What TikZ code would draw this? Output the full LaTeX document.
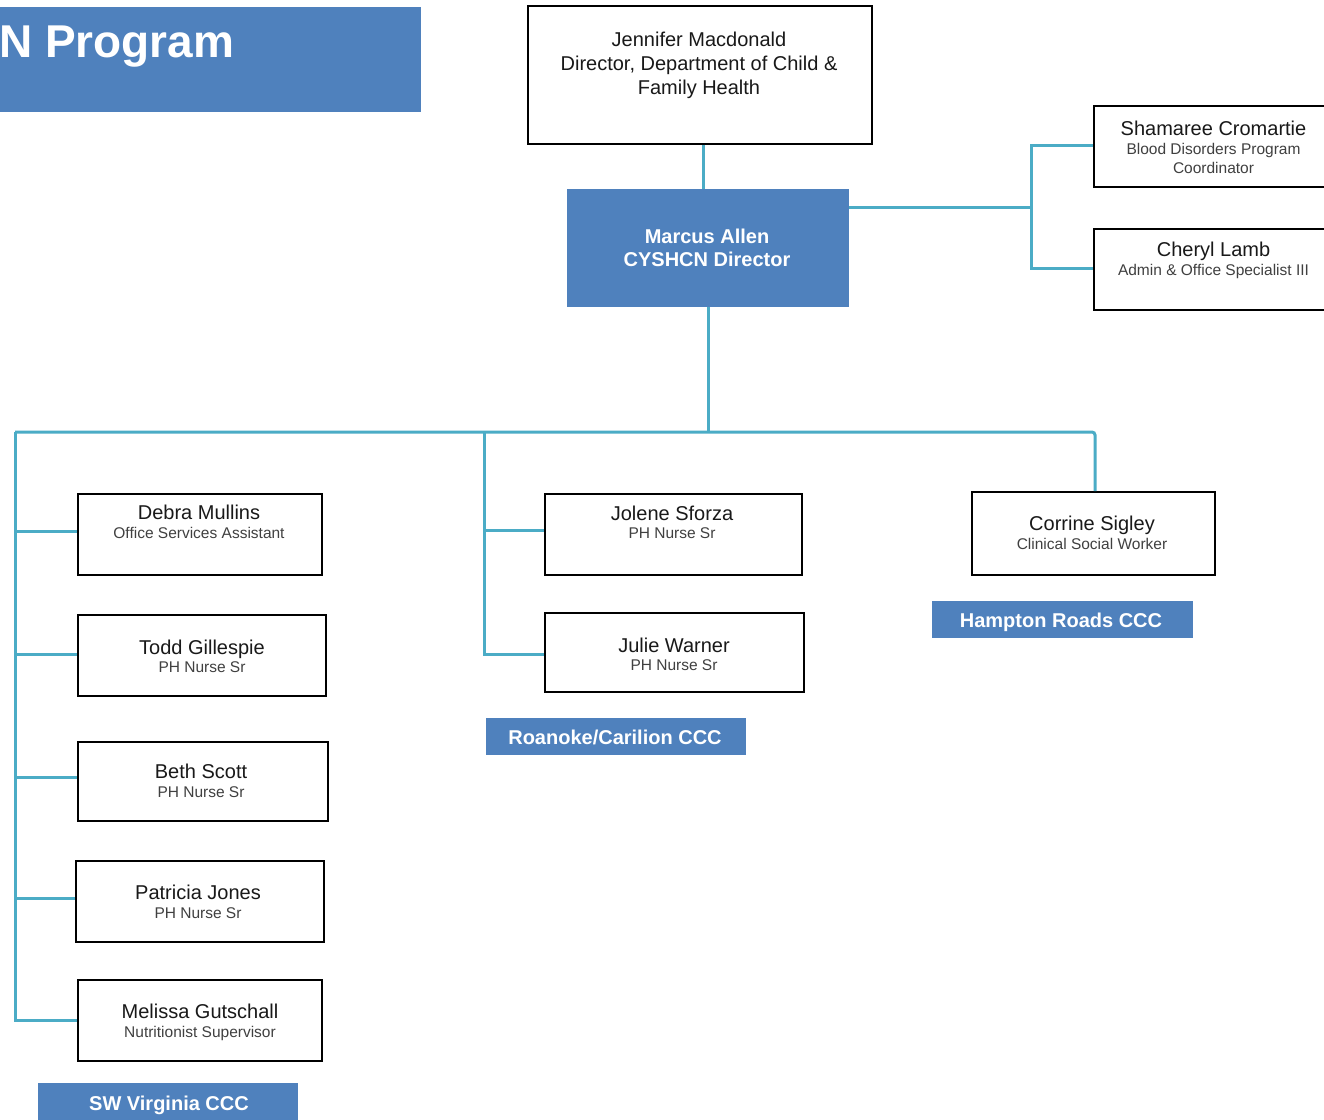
\documentclass[tikz,border=0pt]{standalone}
\usepackage{fontspec}
\setmainfont{Liberation Sans}
\definecolor{hdrblue}{RGB}{79,129,189}
\definecolor{linkteal}{RGB}{75,172,198}
\begin{document}
\begin{tikzpicture}[x=1pt,y=-1pt,
 conn/.style={draw=linkteal,line width=3pt},
 pbox/.style={draw=black,line width=1.6pt,fill=white,inner sep=0pt,rectangle},
 bluebox/.style={fill=hdrblue,inner sep=0pt,rectangle},
 nm/.style={font=\fontsize{20}{24}\selectfont,text height=14.3pt,text depth=0pt,inner sep=0pt,text=black!90},
 tt/.style={font=\fontsize{15.5}{18}\selectfont,text height=11.1pt,text depth=0pt,inner sep=0pt,text=black!75},
 wb/.style={font=\bfseries\fontsize{20}{24}\selectfont,text height=14.3pt,text depth=0pt,inner sep=0pt,text=white}]
\useasboundingbox (0,0) rectangle (1324,1119);
\fill[white] (0,0) rectangle (1324,1119);

% title
\node[bluebox,minimum width=431pt,minimum height=105pt] (title) at (205.5,59.5) {};
\node[anchor=base west,inner sep=0pt,text=white,font=\bfseries\fontsize{46}{50}\selectfont] (titletext) at (-1,57) {N Program};

% boxes
\node[pbox,minimum width=344pt,minimum height=138pt] (jen) at (700,75) {};
\node[nm] (jenA) at (699,39) {Jennifer Macdonald};
\node[nm] (jenB) at (699,63) {Director, Department of Child \&};
\node[nm] (jenC) at (699,87) {Family Health};

\node[bluebox,minimum width=282pt,minimum height=118pt] (marcus) at (708,248) {};
\node[wb] (marcusA) at (707,236) {Marcus Allen};
\node[wb] (marcusB) at (707,259) {CYSHCN Director};

\node[pbox,minimum width=239pt,minimum height=81pt] (sham) at (1213.5,146.5) {};
\node[nm] (shamA) at (1213.5,128) {Shamaree Cromartie};
\node[tt] (shamB) at (1213.5,149) {Blood Disorders Program};
\node[tt] (shamC) at (1213.5,168) {Coordinator};

\node[pbox,minimum width=239pt,minimum height=81pt] (cheryl) at (1213.5,269.5) {};
\node[nm] (cherylA) at (1213.5,249) {Cheryl Lamb};
\node[tt] (cherylB) at (1213.5,270) {Admin \& Office Specialist III};

\node[pbox,minimum width=244pt,minimum height=81pt] (debra) at (200,534.5) {};
\node[nm] (debraA) at (199,512) {Debra Mullins};
\node[tt] (debraB) at (199,533) {Office Services Assistant};

\node[pbox,minimum width=248pt,minimum height=81pt] (todd) at (202,655.5) {};
\node[nm] (toddA) at (202,647) {Todd Gillespie};
\node[tt] (toddB) at (202,667) {PH Nurse Sr};

\node[pbox,minimum width=250pt,minimum height=79pt] (beth) at (203,781.5) {};
\node[nm] (bethA) at (201,771) {Beth Scott};
\node[tt] (bethB) at (201,792) {PH Nurse Sr};

\node[pbox,minimum width=248pt,minimum height=81pt] (patricia) at (200,901.5) {};
\node[nm] (patriciaA) at (198,892) {Patricia Jones};
\node[tt] (patriciaB) at (198,913) {PH Nurse Sr};

\node[pbox,minimum width=244pt,minimum height=81pt] (melissa) at (200,1020.5) {};
\node[nm] (melissaA) at (200,1011) {Melissa Gutschall};
\node[tt] (melissaB) at (200,1032) {Nutritionist Supervisor};

\node[pbox,minimum width=257pt,minimum height=81pt] (jolene) at (673.5,534.5) {};
\node[nm] (joleneA) at (672,513) {Jolene Sforza};
\node[tt] (joleneB) at (672,533) {PH Nurse Sr};

\node[pbox,minimum width=259pt,minimum height=79pt] (julie) at (674.5,652.5) {};
\node[nm] (julieA) at (674,645) {Julie Warner};
\node[tt] (julieB) at (674,665) {PH Nurse Sr};

\node[pbox,minimum width=243pt,minimum height=83pt] (corrine) at (1093.5,533.5) {};
\node[nm] (corrineA) at (1092,523) {Corrine Sigley};
\node[tt] (corrineB) at (1092,544) {Clinical Social Worker};

% site labels
\node[bluebox,minimum width=260pt,minimum height=42pt] (swv) at (168,1104) {};
\node[wb] (swvT) at (169,1103) {SW Virginia CCC};
\node[bluebox,minimum width=260pt,minimum height=37pt] (roan) at (616,736.5) {};
\node[wb] (roanT) at (615,737) {Roanoke/Carilion CCC};
\node[bluebox,minimum width=261pt,minimum height=37pt] (hamp) at (1062.5,619.5) {};
\node[wb] (hampT) at (1061,620) {Hampton Roads CCC};

% connectors
\coordinate (rj) at (1031,207);
\coordinate (busL) at (15,432);
\coordinate (busM) at (484,432);
\coordinate (busR) at (1095,432);
\coordinate (shamW) at ([yshift=1.5pt]sham.west);
\coordinate (cherylW) at ([yshift=1.5pt]cheryl.west);
\coordinate (debraW) at ([yshift=3.5pt]debra.west);
\coordinate (toddW) at ([yshift=1.5pt]todd.west);
\coordinate (bethW) at ([yshift=4.5pt]beth.west);
\coordinate (patriciaW) at ([yshift=3.5pt]patricia.west);
\coordinate (julieW) at ([yshift=-1.5pt]julie.west);
\coordinate (joleneW) at ([yshift=4.5pt]jolene.west);

\draw[conn] ([xshift=3pt]jen.south) -- ([xshift=-5pt]marcus.north);
\draw[conn] ([yshift=41pt]marcus.east) -- (rj);
\draw[conn] (shamW) -| (rj) |- (cherylW);
\draw[conn] (marcus.south) -- (marcus.south |- busL);
\draw[conn,rounded corners=3pt] (busL) -- (busR) -- (busR |- corrine.north);
\draw[conn] (busL) -- (busL |- melissa.west) -- (melissa.west);
\draw[conn] (busL |- debraW) -- (debraW);
\draw[conn] (busL |- toddW) -- (toddW);
\draw[conn] (busL |- bethW) -- (bethW);
\draw[conn] (busL |- patriciaW) -- (patriciaW);
\draw[conn] (busM) -- (busM |- julieW) -- (julieW);
\draw[conn] (busM |- joleneW) -- (joleneW);
\end{tikzpicture}
\end{document}
